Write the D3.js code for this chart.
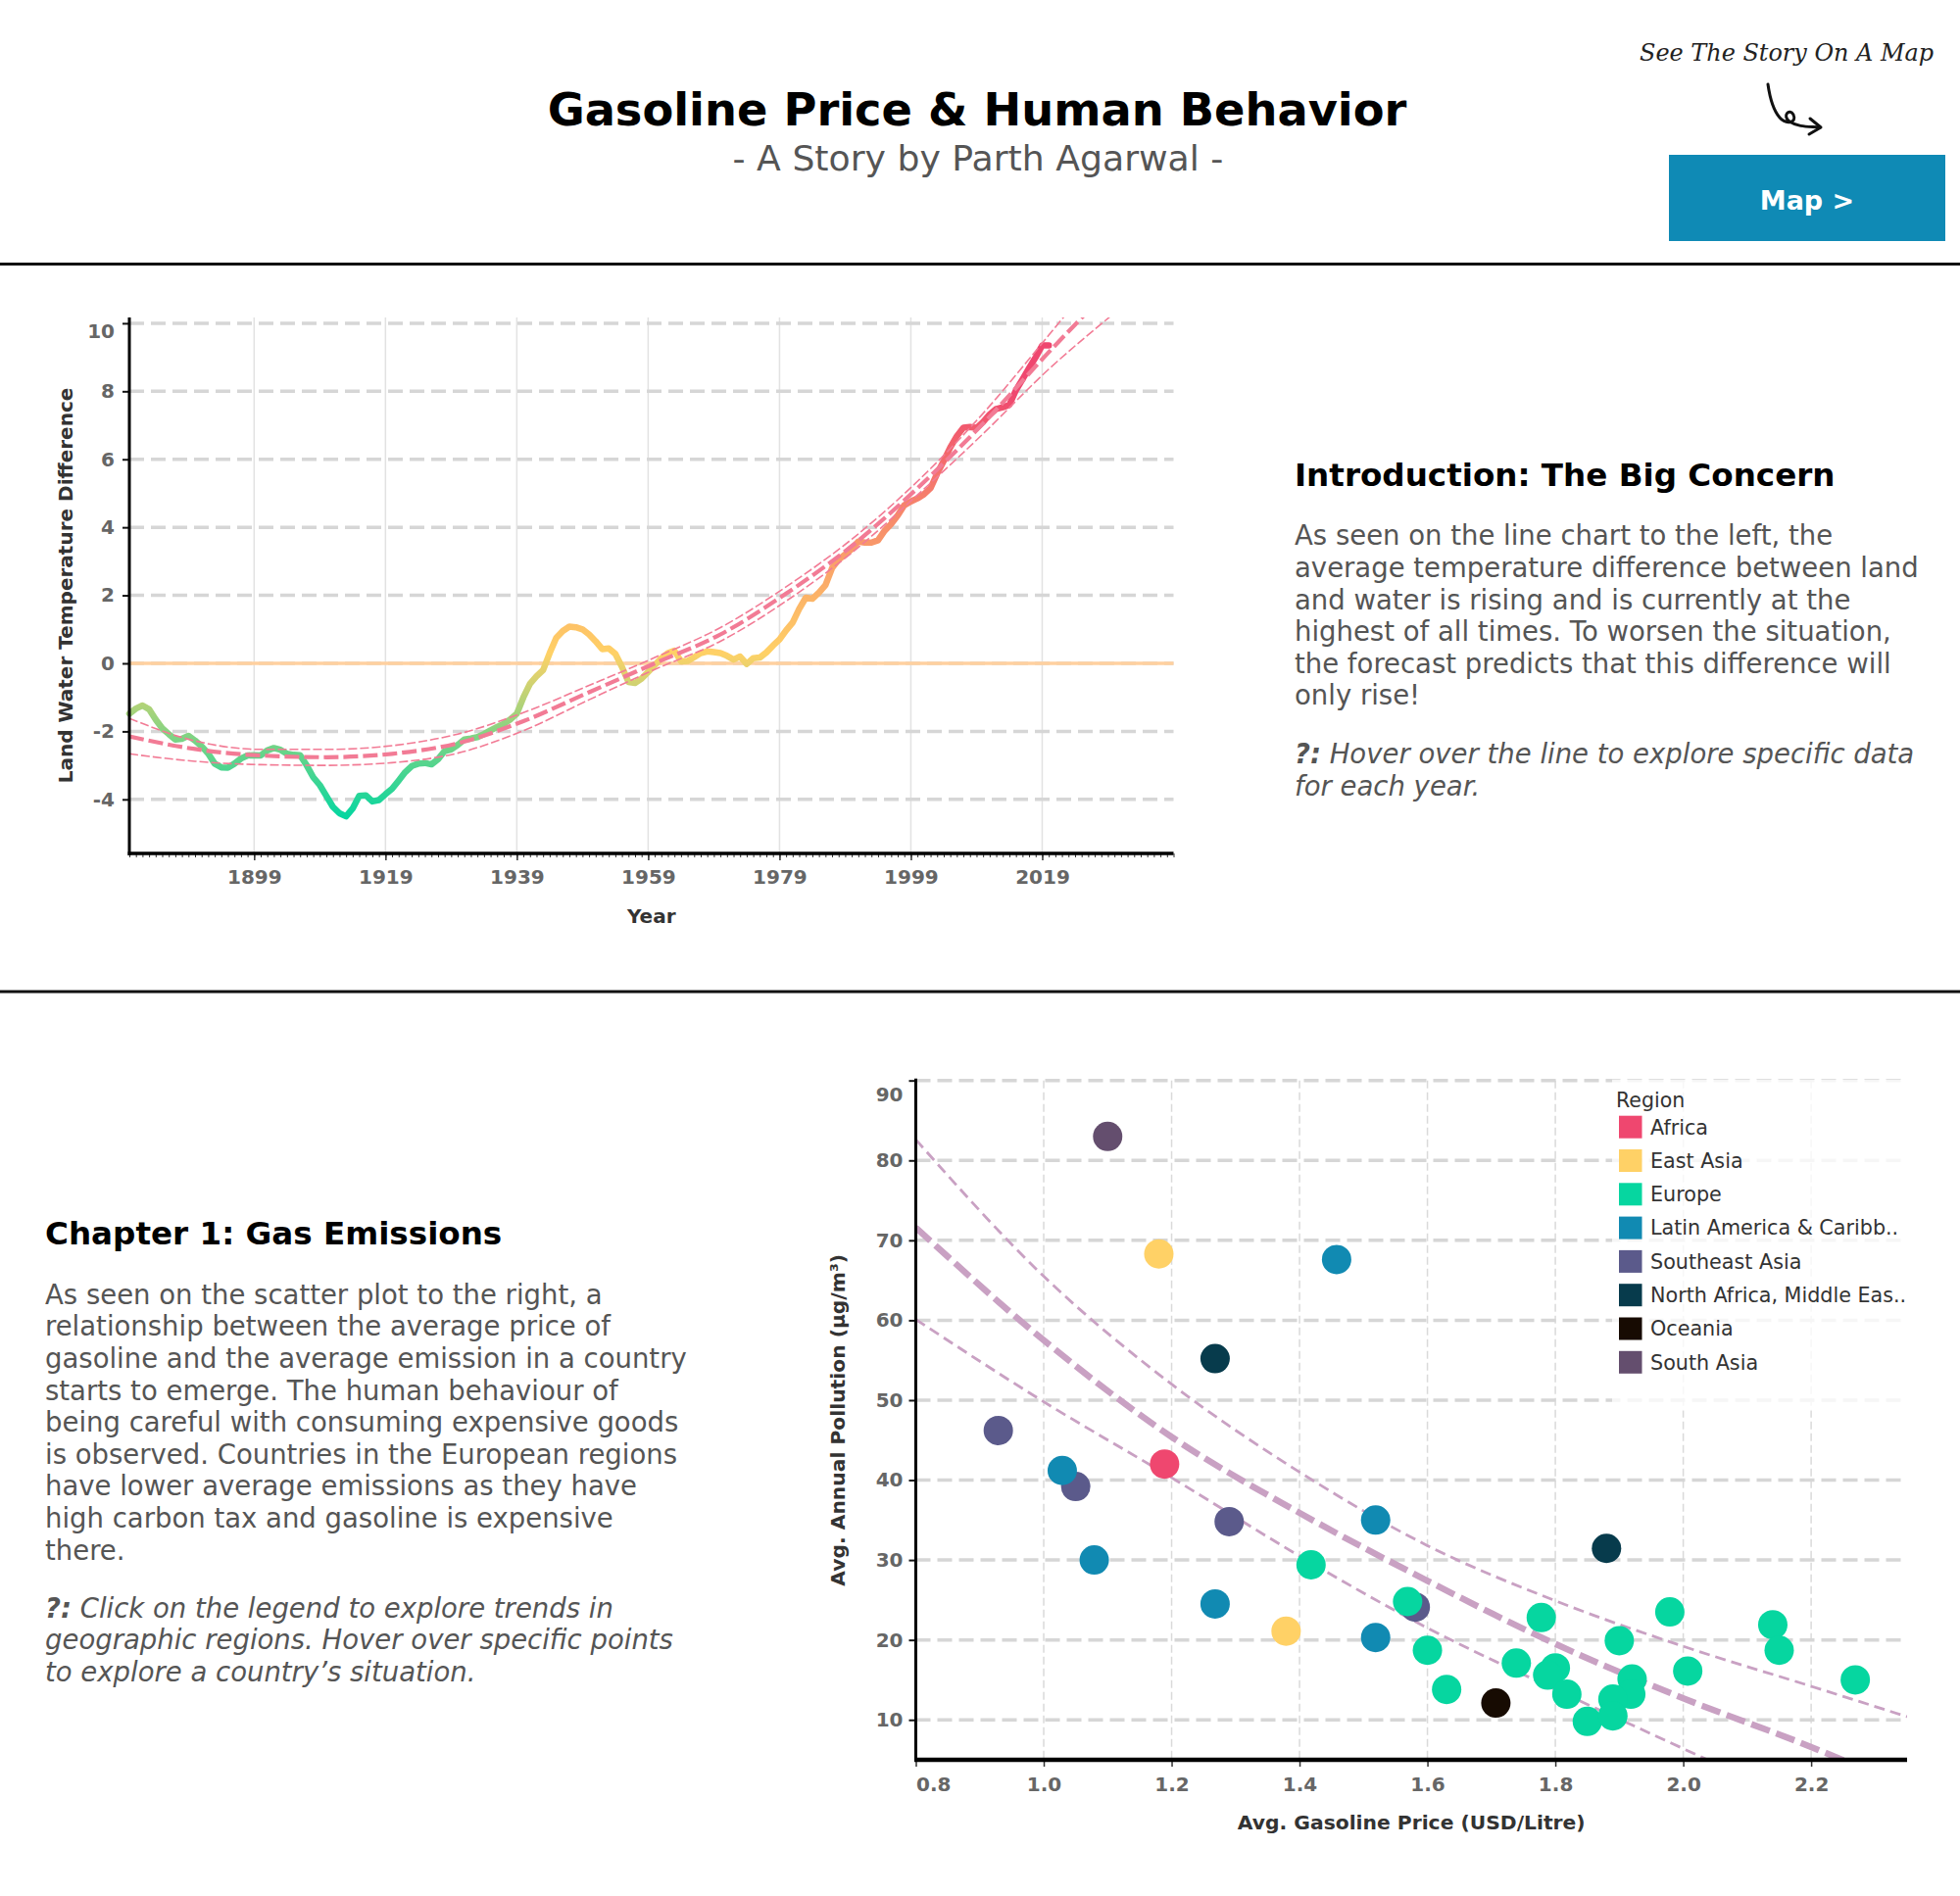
<!DOCTYPE html>
<html><head><meta charset="utf-8">
<script src="https://cdn.jsdelivr.net/npm/d3@7"></script>
<style>
html,body{margin:0;padding:0;background:#fff;}
svg{display:block;font-family:"DejaVu Sans",sans-serif;}
</style></head><body>
<svg id="c" width="2000" height="1935"></svg>
<script>
// ---------------- DATA ----------------
const pageTitle = "Gasoline Price & Human Behavior";
const pageSubtitle = "- A Story by Parth Agarwal -";
const mapHint = "See The Story On A Map";
const mapButton = "Map >";

// Line chart: land / water temperature difference, one value per year 1880..2020
const tempStartYear = 1880;
const tempValues = [
  -1.48,-1.33,-1.24,-1.35,-1.65,-1.91,-2.08,-2.24,-2.22,-2.13,
  -2.27,-2.44,-2.65,-2.95,-3.06,-3.07,-2.95,-2.80,-2.71,-2.70,
  -2.71,-2.56,-2.49,-2.54,-2.66,-2.69,-2.70,-3.00,-3.35,-3.58,
  -3.90,-4.22,-4.41,-4.50,-4.27,-3.90,-3.88,-4.06,-4.02,-3.85,
  -3.69,-3.45,-3.20,-3.02,-2.95,-2.93,-2.97,-2.82,-2.58,-2.53,
  -2.40,-2.24,-2.21,-2.17,-2.08,-1.97,-1.87,-1.78,-1.65,-1.48,
  -1.00,-0.60,-0.38,-0.20,0.30,0.75,0.95,1.08,1.06,1.00,
  0.85,0.65,0.42,0.44,0.28,-0.10,-0.55,-0.58,-0.45,-0.25,
  -0.05,0.15,0.30,0.37,0.06,0.07,0.18,0.30,0.35,0.33,
  0.30,0.22,0.11,0.20,-0.02,0.15,0.17,0.32,0.52,0.70,
  0.97,1.20,1.60,1.93,1.90,2.08,2.30,2.80,3.05,3.20,
  3.36,3.58,3.55,3.55,3.62,3.90,4.10,4.35,4.65,4.76,
  4.85,4.97,5.15,5.58,5.95,6.35,6.68,6.93,6.95,6.92,
  7.10,7.32,7.48,7.53,7.60,8.03,8.35,8.68,9.00,9.35,
  9.35
];
// Forecast trend (centre) and its band
const trendYears  = [1880,1890,1900,1910,1920,1930,1940,1950,1960,1970,1980,1990,2000,2010,2020,2030];
const trendCenter = [-2.15,-2.52,-2.71,-2.76,-2.66,-2.35,-1.70,-0.85,0.00,0.85,2.05,3.45,5.15,7.05,9.15,11.15];
const trendUpper  = [-1.62,-2.28,-2.53,-2.53,-2.42,-2.08,-1.45,-0.65,0.17,1.05,2.25,3.65,5.35,7.35,9.65,12.0];
const trendLower  = [-2.66,-2.88,-2.98,-3.00,-2.92,-2.64,-1.98,-1.07,-0.18,0.65,1.83,3.25,4.95,6.75,8.65,10.3];
const lineXTicks = [1899,1919,1939,1959,1979,1999,2019];
const lineYTicks = [-4,-2,0,2,4,6,8,10];

// Scatter: gasoline price vs pollution
const regions = ["Africa","East Asia","Europe","Latin America & Caribb..","Southeast Asia","North Africa, Middle Eas..","Oceania","South Asia"];
const regionColors = ["#ef476f","#ffd166","#06d6a0","#118ab2","#5b5a8b","#073b4c","#170b02","#644e6e"];
const gasPrice  = [1.10,1.18,1.458,1.268,0.929,1.189,1.029,1.05,1.29,1.519,1.88,1.079,1.418,1.268,1.569,1.581,1.379,1.519,1.778,1.979,2.14,1.90,2.15,1.60,1.739,1.80,1.788,2.007,1.92,2.269,1.63,1.818,1.918,1.707,1.89,1.85,1.89];
const pollution = [83.0,68.3,67.6,55.2,46.2,42.0,41.2,39.2,34.8,35.0,31.45,30.0,29.4,24.5,24.8,24.1,21.1,20.3,22.8,23.5,21.9,19.9,18.7,18.7,17.1,16.5,15.6,16.1,15.1,15.0,13.8,13.2,13.2,12.1,12.6,9.8,10.5];
const pointRegion = [7,1,3,5,4,0,3,4,4,3,5,3,2,3,2,4,1,3,2,2,2,2,2,2,2,2,2,2,2,2,2,2,2,6,2,2,2];
const fitPrice  = [0.8,1.0,1.2,1.4,1.6,1.8,2.0,2.2,2.35];
const fitCenter = [71.6,57.5,45.4,35.9,27.4,19.5,12.7,6.6,1.5];
const fitUpper  = [82.6,65.5,52.0,41.0,31.8,24.9,19.2,14.2,10.4];
const fitLower  = [60.1,49.8,40.3,30.5,21.5,13.8,6.4,-1.0,-7.0];
const scatterXTicks = [0.8,1.0,1.2,1.4,1.6,1.8,2.0,2.2];
const scatterYTicks = [10,20,30,40,50,60,70,80,90];

const introTitle = "Introduction: The Big Concern";
const introLines = ["As seen on the line chart to the left, the","average temperature difference between land","and water is rising and is currently at the","highest of all times. To worsen the situation,","the forecast predicts that this difference will","only rise!"];
const introHint = [" Hover over the line to explore specific data","for each year."];
const chapTitle = "Chapter 1: Gas Emissions";
const chapLines = ["As seen on the scatter plot to the right, a","relationship between the average price of","gasoline and the average emission in a country","starts to emerge. The human behaviour of","being careful with consuming expensive goods","is observed. Countries in the European regions","have lower average emissions as they have","high carbon tax and gasoline is expensive","there."];
const chapHint = [" Click on the legend to explore trends in","geographic regions. Hover over specific points","to explore a country\u2019s situation."];

// ---------------- DRAW ----------------
const svg = d3.select("#c");
svg.append("rect").attr("width",2000).attr("height",1935).attr("fill","#fff");
const defs = svg.append("defs");

// Header
svg.append("text").attr("x",997).attr("y",127.5).attr("text-anchor","middle")
  .attr("font-size",46.3).attr("font-weight","bold").attr("fill","#000").text(pageTitle);
svg.append("text").attr("x",998).attr("y",173.5).attr("text-anchor","middle")
  .attr("font-size",36.2).attr("fill","#555").text(pageSubtitle);
svg.append("text").attr("x",1673).attr("y",62).attr("font-family","'DejaVu Serif',serif")
  .attr("font-style","italic").attr("font-size",25).attr("fill","#222")
  .attr("textLength",300).attr("lengthAdjust","spacingAndGlyphs").text(mapHint);
svg.append("path").attr("d","M1804,86 C1806,100 1809,112 1816,120 C1822,127 1834,126 1830,117 C1826,110 1818,118 1826,124 C1835,130 1846,129 1857,130")
  .attr("fill","none").attr("stroke","#111").attr("stroke-width",3).attr("stroke-linecap","round");
svg.append("path").attr("d","M1847,121 L1858,130 L1846,137")
  .attr("fill","none").attr("stroke","#111").attr("stroke-width",3).attr("stroke-linecap","round").attr("stroke-linejoin","round");
svg.append("rect").attr("x",1703).attr("y",158).attr("width",282).attr("height",88).attr("fill","#0f8ab5");
svg.append("text").attr("x",1844).attr("y",213.5).attr("text-anchor","middle").attr("font-size",27)
  .attr("font-weight","bold").attr("fill","#fff").text(mapButton);

// Separators
svg.append("rect").attr("x",0).attr("y",268).attr("width",2000).attr("height",3).attr("fill","#111");
svg.append("rect").attr("x",0).attr("y",1010.5).attr("width",2000).attr("height",3).attr("fill","#111");

// Text blocks
function textBlock(x, titleY, title, lines, lineY0, hint, hintY0){
  svg.append("text").attr("x",x).attr("y",titleY).attr("font-size",32.6).attr("font-weight","bold")
    .attr("fill","#000").text(title);
  lines.forEach((l,i)=>svg.append("text").attr("x",x).attr("y",lineY0+i*32.6)
    .attr("font-size",27.5).attr("fill","#555").text(l));
  hint.forEach((l,i)=>{
    const t = svg.append("text").attr("x",x).attr("y",hintY0+i*32.6)
      .attr("font-size",27.5).attr("fill","#555").attr("font-style","italic");
    if(i===0) t.append("tspan").attr("font-weight","bold").text("?:");
    t.append("tspan").text(l);
  });
}
textBlock(1321, 496.2, introTitle, introLines, 556.3, introHint, 779.3);
textBlock(46, 1270, chapTitle, chapLines, 1330.7, chapHint, 1650.8);

// ---------- LINE CHART ----------
const L = {left:132, right:1197.5, top:324, bottom:871};
const lx = d3.scaleLinear().domain([1880,2039]).range([L.left,L.right]);
const ly = d3.scaleLinear().domain([-5.59,10.17]).range([L.bottom,L.top]);
const lg = svg.append("g");

defs.append("clipPath").attr("id","clipL").append("rect")
  .attr("x",L.left).attr("y",L.top).attr("width",L.right-L.left).attr("height",L.bottom-L.top);

// vertical grid
lg.append("g").selectAll("line").data(lineXTicks).join("line")
  .attr("x1",d=>lx(d)).attr("x2",d=>lx(d)).attr("y1",L.top).attr("y2",L.bottom)
  .attr("stroke","#e2e2e2").attr("stroke-width",1.5);
// horizontal grid
lg.append("g").selectAll("line").data(lineYTicks).join("line")
  .attr("x1",L.left).attr("x2",L.right).attr("y1",d=>ly(d)).attr("y2",d=>ly(d))
  .attr("stroke","#d6d6d6").attr("stroke-width",3.5).attr("stroke-dasharray","15,7");
// zero line
lg.append("line").attr("x1",L.left).attr("x2",L.right).attr("y1",ly(0)).attr("y2",ly(0))
  .attr("stroke","#ffd09f").attr("stroke-width",3.5);

// gradient for data line
const grad = defs.append("linearGradient").attr("id","tempGrad")
  .attr("gradientUnits","userSpaceOnUse").attr("x1",0).attr("x2",0)
  .attr("y1",ly(-4.5)).attr("y2",ly(8.0));
const gStops = [[-4.5,"#06d6a0"],[0.3,"#ffd166"],[8.0,"#ef476f"]];
gStops.forEach(s=>grad.append("stop").attr("offset",((s[0]+4.5)/12.5)).attr("stop-color",s[1]));

const tempData = tempValues.map((v,i)=>({year:tempStartYear+i, v}));
lg.append("path").datum(tempData)
  .attr("d", d3.line().x(d=>lx(d.year)).y(d=>ly(d.v)))
  .attr("fill","none").attr("stroke","url(#tempGrad)").attr("stroke-width",6.5)
  .attr("stroke-linejoin","round").attr("stroke-linecap","round");

// trend lines
const trendLine = arr => d3.line().curve(d3.curveMonotoneX).x((d,i)=>lx(trendYears[i])).y(d=>ly(d))(arr);
const tg = lg.append("g").attr("clip-path","url(#clipL)");
[trendUpper,trendLower].forEach(a=>tg.append("path").attr("d",trendLine(a))
  .attr("fill","none").attr("stroke","#f27b95").attr("stroke-width",1.6).attr("stroke-dasharray","9,3"));
tg.append("path").attr("d",trendLine(trendCenter)).attr("fill","none")
  .attr("stroke","#f27b95").attr("stroke-width",4.2).attr("stroke-dasharray","15,5");

// axes
const fmtInt = d => String(d);
const lxMinor = lg.append("g").attr("transform",`translate(0,${L.bottom})`)
  .call(d3.axisBottom(lx).tickValues(d3.range(1880,2040)).tickSize(4).tickFormat(""));
lxMinor.select(".domain").remove();
lxMinor.selectAll("line").attr("stroke","#333").attr("stroke-width",1);
const lxAxis = lg.append("g").attr("transform",`translate(0,${L.bottom})`)
  .call(d3.axisBottom(lx).tickValues(lineXTicks).tickSize(7).tickPadding(10).tickFormat(fmtInt));
lxAxis.select(".domain").remove();
lxAxis.selectAll("line").attr("stroke","#333").attr("stroke-width",1.5);
lxAxis.selectAll("text").attr("font-size",20).attr("font-weight","bold").attr("fill","#666")
  .attr("font-family","DejaVu Sans");
const lyAxis = lg.append("g").attr("transform",`translate(${L.left},0)`)
  .call(d3.axisLeft(ly).tickValues(lineYTicks).tickSize(7).tickPadding(8).tickFormat(fmtInt));
lyAxis.select(".domain").remove();
lyAxis.selectAll("line").attr("stroke","#111").attr("stroke-width",2);
lyAxis.selectAll("text").attr("font-size",20).attr("font-weight","bold").attr("fill","#666")
  .attr("font-family","DejaVu Sans")
  .attr("dy",d=>d===10?"0.71em":"0.32em");
lg.append("line").attr("x1",L.left).attr("x2",L.left).attr("y1",L.top).attr("y2",L.bottom+2)
  .attr("stroke","#000").attr("stroke-width",3);
lg.append("line").attr("x1",L.left-1.5).attr("x2",L.right).attr("y1",L.bottom).attr("y2",L.bottom)
  .attr("stroke","#000").attr("stroke-width",3.5);
lg.append("text").attr("x",(L.left+L.right)/2).attr("y",942).attr("text-anchor","middle")
  .attr("font-size",20).attr("font-weight","bold").attr("fill","#333").text("Year");
lg.append("text").attr("transform",`translate(74,${(L.top+L.bottom)/2}) rotate(-90)`)
  .attr("text-anchor","middle").attr("font-size",20).attr("font-weight","bold").attr("fill","#333")
  .text("Land Water Temperature Difference");

// ---------- SCATTER ----------
const S = {left:934.5, right:1946, top:1102.7, bottom:1796};
const sx = d3.scaleLinear().domain([0.8,2.35]).range([S.left,S.right]);
const sy = d3.scaleLinear().domain([5,90]).range([S.bottom,S.top]);
const sg = svg.append("g");
defs.append("clipPath").attr("id","clipS").append("rect")
  .attr("x",S.left).attr("y",S.top).attr("width",S.right-S.left).attr("height",S.bottom-S.top);

sg.append("g").selectAll("line").data(scatterXTicks.slice(1)).join("line")
  .attr("x1",d=>sx(d)).attr("x2",d=>sx(d)).attr("y1",S.top).attr("y2",S.bottom)
  .attr("stroke","#dadada").attr("stroke-width",1.5).attr("stroke-dasharray","8,4");
sg.append("g").selectAll("line").data(scatterYTicks).join("line")
  .attr("x1",S.left).attr("x2",S.right).attr("y1",d=>sy(d)).attr("y2",d=>sy(d))
  .attr("stroke","#d6d6d6").attr("stroke-width",3.5).attr("stroke-dasharray","15,7");

// legend background
sg.append("rect").attr("x",1645).attr("y",S.top-1).attr("width",S.right-1645+1).attr("height",338)
  .attr("fill","#fff").attr("opacity",0.78);

// fit lines
const fitLine = arr => d3.line().curve(d3.curveMonotoneX).x((d,i)=>sx(fitPrice[i])).y(d=>sy(d))(arr);
const fg = sg.append("g").attr("clip-path","url(#clipS)");
[fitUpper,fitLower].forEach(a=>fg.append("path").attr("d",fitLine(a)).attr("fill","none")
  .attr("stroke","#c9a1c3").attr("stroke-width",2.8).attr("stroke-dasharray","11,6"));
fg.append("path").attr("d",fitLine(fitCenter)).attr("fill","none")
  .attr("stroke","#c9a1c3").attr("stroke-width",6.5).attr("stroke-dasharray","20,7");

// points (draw order: Southeast Asia first so others sit on top)
const drawOrder = [4,7,5,6,0,1,3,2];
const pts = gasPrice.map((p,i)=>({p, v:pollution[i], r:pointRegion[i]}))
  .sort((a,b)=>drawOrder.indexOf(a.r)-drawOrder.indexOf(b.r));
sg.append("g").selectAll("circle").data(pts).join("circle")
  .attr("cx",d=>sx(d.p)).attr("cy",d=>sy(d.v)).attr("r",15)
  .attr("fill",d=>regionColors[d.r]);

// axes
const sxAxis = sg.append("g").attr("transform",`translate(0,${S.bottom})`)
  .call(d3.axisBottom(sx).tickValues(scatterXTicks).tickSize(7).tickPadding(11).tickFormat(d3.format(".1f")));
sxAxis.select(".domain").remove();
sxAxis.selectAll("line").attr("stroke","#333").attr("stroke-width",1.5);
sxAxis.selectAll("text").attr("font-size",20).attr("font-weight","bold").attr("fill","#666")
  .attr("font-family","DejaVu Sans")
  .attr("text-anchor",d=>d===0.8?"start":"middle");
const syAxis = sg.append("g").attr("transform",`translate(${S.left},0)`)
  .call(d3.axisLeft(sy).tickValues(scatterYTicks).tickSize(7).tickPadding(6).tickFormat(fmtInt));
syAxis.select(".domain").remove();
syAxis.selectAll("line").attr("stroke","#111").attr("stroke-width",2);
syAxis.selectAll("text").attr("font-size",20).attr("font-weight","bold").attr("fill","#666")
  .attr("font-family","DejaVu Sans")
  .attr("dy",d=>d===90?"1.05em":"0.32em");
sg.append("line").attr("x1",S.left).attr("x2",S.left).attr("y1",S.top-2).attr("y2",S.bottom+2)
  .attr("stroke","#000").attr("stroke-width",3);
sg.append("line").attr("x1",S.left-1.5).attr("x2",S.right).attr("y1",S.bottom).attr("y2",S.bottom)
  .attr("stroke","#000").attr("stroke-width",4.5);
sg.append("text").attr("x",(S.left+S.right)/2).attr("y",1867).attr("text-anchor","middle")
  .attr("font-size",20.3).attr("font-weight","bold").attr("fill","#333").text("Avg. Gasoline Price (USD/Litre)");
sg.append("text").attr("transform",`translate(862,${(S.top+S.bottom)/2}) rotate(-90)`)
  .attr("text-anchor","middle").attr("font-size",20.3).attr("font-weight","bold").attr("fill","#333")
  .text("Avg. Annual Pollution (\u00b5g/m\u00b3)");

// legend
const leg = sg.append("g");
leg.append("text").attr("x",1649).attr("y",1129.5).attr("font-size",20.5).attr("fill","#333").text("Region");
const rows = leg.selectAll("g.row").data(regions).join("g").attr("class","row")
  .attr("transform",(d,i)=>`translate(0,${1150.2+i*34.3})`);
rows.append("rect").attr("x",1652).attr("y",-11.5).attr("width",23.5).attr("height",23)
  .attr("fill",(d,i)=>regionColors[i]);
rows.append("text").attr("x",1684).attr("y",7.3).attr("font-size",20.7).attr("fill","#333").text(d=>d);
</script>
</body></html>
